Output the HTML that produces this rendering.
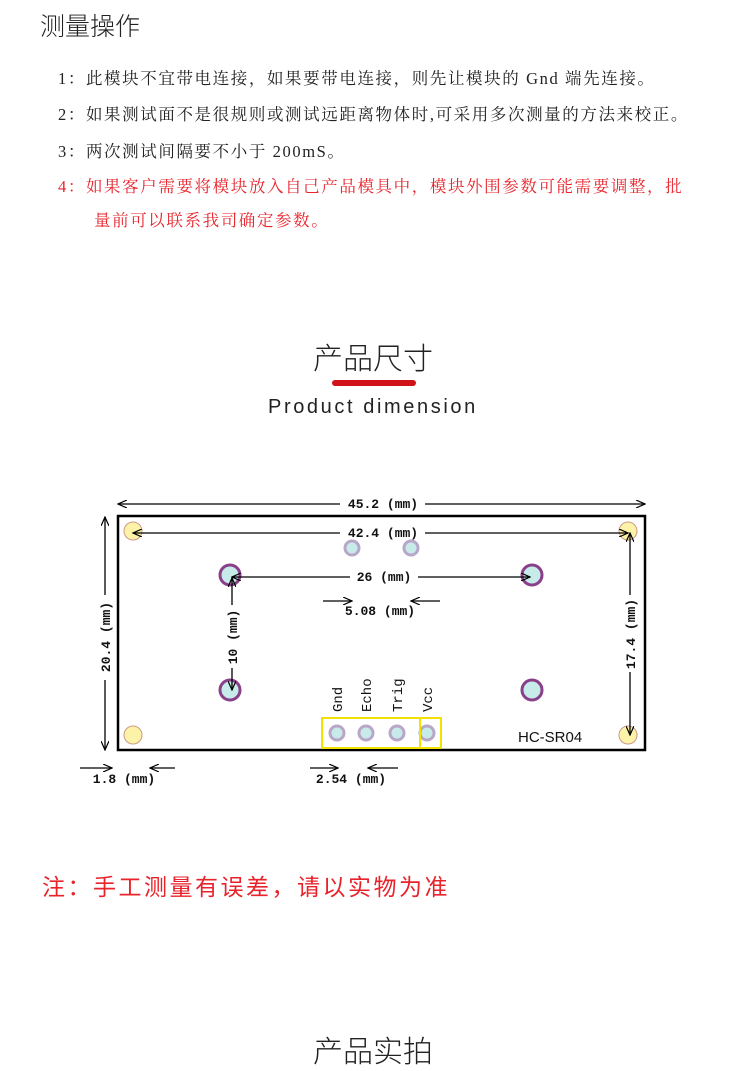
<!DOCTYPE html>
<html><head><meta charset="utf-8"><style>
body{margin:0;width:750px;height:1070px;background:#fff;position:relative;overflow:hidden}
.a{position:absolute;white-space:nowrap}
.s{font-family:"Liberation Serif","Noto Serif CJK SC",serif;font-size:16.5px;color:#222;letter-spacing:1.6px}
.h{font-family:"Liberation Sans","Noto Sans CJK SC",sans-serif;font-weight:300;color:#222}
</style></head><body>
<div class="a h" style="left:40px;top:7px;font-size:25px">测量操作</div>
<div class="a s" style="left:58px;top:65px">1：此模块不宜带电连接，如果要带电连接，则先让模块的 Gnd 端先连接。</div>
<div class="a s" style="left:58px;top:101px">2：如果测试面不是很规则或测试远距离物体时,可采用多次测量的方法来校正。</div>
<div class="a s" style="left:58px;top:138px">3：两次测试间隔要不小于 200mS。</div>
<div class="a s" style="left:58px;top:173px;color:#e8232b">4：如果客户需要将模块放入自己产品模具中，模块外围参数可能需要调整，批</div>
<div class="a s" style="left:94px;top:207px;color:#e8232b">量前可以联系我司确定参数。</div>
<div class="a h" style="left:313px;top:334px;font-size:30px">产品尺寸</div>
<div class="a" style="left:332px;top:380px;width:84px;height:6px;border-radius:3px;background:#d0131b"></div>
<div class="a h" style="left:268px;top:396px;font-size:20px;letter-spacing:2.6px">Product dimension</div>
<svg class="a" style="left:0;top:0" width="750" height="1070" font-family="Liberation Mono,monospace" font-size="13" fill="#111" font-weight="bold">
<defs><marker id="m" markerWidth="10" markerHeight="8" refX="9" refY="4" orient="auto-start-reverse" markerUnits="userSpaceOnUse"><path d="M0,0 L9,4 L0,8" fill="none" stroke="#000" stroke-width="1.2"/></marker></defs>
<rect x="118" y="516" width="527" height="234" fill="none" stroke="#000" stroke-width="2.5"/>
<g fill="#fdf3a8" stroke="#c98"><circle cx="133" cy="531" r="9"/><circle cx="628" cy="531" r="9"/><circle cx="133" cy="735" r="9"/><circle cx="628" cy="735" r="9"/></g>
<g fill="#c7ebe8" stroke="#8a3f8a" stroke-width="3"><circle cx="230" cy="575" r="10"/><circle cx="532" cy="575" r="10"/><circle cx="230" cy="690" r="10"/><circle cx="532" cy="690" r="10"/></g>
<g fill="#c7ebe8" stroke="#b9a7c9" stroke-width="3"><circle cx="352" cy="548" r="7"/><circle cx="411" cy="548" r="7"/><circle cx="337" cy="733" r="7"/><circle cx="366" cy="733" r="7"/><circle cx="397" cy="733" r="7"/><circle cx="427" cy="733" r="7"/></g>
<rect x="322" y="718" width="98" height="30" fill="none" stroke="#f2e200" stroke-width="2"/>
<rect x="420" y="718" width="21" height="30" fill="none" stroke="#f2e200" stroke-width="2"/>
<g stroke="#000" stroke-width="1.3" fill="none">
<line x1="118" y1="504" x2="340" y2="504" marker-start="url(#m)"/><line x1="425" y1="504" x2="645" y2="504" marker-end="url(#m)"/>
<line x1="133" y1="533" x2="340" y2="533" marker-start="url(#m)"/><line x1="425" y1="533" x2="628" y2="533" marker-end="url(#m)"/>
<line x1="232" y1="577" x2="350" y2="577" marker-start="url(#m)"/><line x1="418" y1="577" x2="530" y2="577" marker-end="url(#m)"/>
<line x1="323" y1="601" x2="352" y2="601" marker-end="url(#m)"/><line x1="440" y1="601" x2="411" y2="601" marker-end="url(#m)"/>
<line x1="232" y1="578" x2="232" y2="605" marker-start="url(#m)"/><line x1="232" y1="668" x2="232" y2="690" marker-end="url(#m)"/>
<line x1="105" y1="517" x2="105" y2="595" marker-start="url(#m)"/><line x1="105" y1="680" x2="105" y2="750" marker-end="url(#m)"/>
<line x1="630" y1="533" x2="630" y2="595" marker-start="url(#m)"/><line x1="630" y1="672" x2="630" y2="735" marker-end="url(#m)"/>
<line x1="80" y1="768" x2="112" y2="768" marker-end="url(#m)"/><line x1="175" y1="768" x2="150" y2="768" marker-end="url(#m)"/>
<line x1="310" y1="768" x2="338" y2="768" marker-end="url(#m)"/><line x1="398" y1="768" x2="368" y2="768" marker-end="url(#m)"/>
</g>
<g text-anchor="middle">
<text x="383" y="508">45.2 (mm)</text><text x="383" y="537">42.4 (mm)</text><text x="384" y="581">26 (mm)</text>
<text x="380" y="615">5.08 (mm)</text><text x="124" y="783">1.8 (mm)</text><text x="351" y="783">2.54 (mm)</text>
<text transform="translate(237,637) rotate(-90)">10 (mm)</text>
<text transform="translate(110,637) rotate(-90)">20.4 (mm)</text>
<text transform="translate(635,634) rotate(-90)">17.4 (mm)</text>
</g>
<g font-size="14" font-weight="normal"><text transform="translate(342,712) rotate(-90)">Gnd</text><text transform="translate(371,712) rotate(-90)">Echo</text><text transform="translate(402,712) rotate(-90)">Trig</text><text transform="translate(432,712) rotate(-90)">Vcc</text></g>
<text x="518" y="742" font-family="Liberation Sans,sans-serif" font-size="15" font-weight="normal">HC-SR04</text>
</svg>
<div class="a h" style="left:42px;top:868px;font-size:23px;color:#e8232b;font-weight:400;letter-spacing:2.5px">注：手工测量有误差，请以实物为准</div>
<div class="a h" style="left:313px;top:1027px;font-size:30px">产品实拍</div>
</body></html>
